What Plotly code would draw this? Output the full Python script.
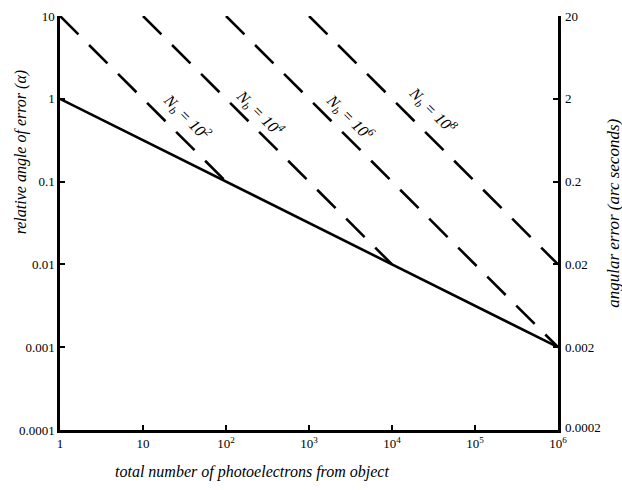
import math
import plotly.graph_objects as go

# --- data ---
solid_x = [1, 1e6]
solid_y = [1, 0.001]

nb_labels = ["10<sup>2</sup>", "10<sup>4</sup>", "10<sup>6</sup>", "10<sup>8</sup>"]
dash_x_start = [1, 10, 100, 1000]
dash_x_end = [100, 1e4, 1e6, 1e6]
dash_y_start = [10, 10, 10, 10]
dash_y_end = [0.1, 0.01, 0.001, 0.01]

x_tickvals = [1, 10, 100, 1e3, 1e4, 1e5, 1e6]
x_ticktext = ["1", "10", "10<sup>2</sup>", "10<sup>3</sup>", "10<sup>4</sup>", "10<sup>5</sup>", "10<sup>6</sup>"]
y_tickvals = [10, 1, 0.1, 0.01, 0.001, 0.0001]
y_ticktext = ["10", "1", "0.1", "0.01", "0.001", "0.0001"]
y2_tickvals = [20, 2, 0.2, 0.02, 0.002, 0.0002]
y2_ticktext = ["20", "2", "0.2", "0.02", "0.002", "0.0002"]

FONT = "Liberation Serif"
fig = go.Figure()

for i in range(len(nb_labels)):
    fig.add_trace(go.Scatter(
        x=[dash_x_start[i], dash_x_end[i]], y=[dash_y_start[i], dash_y_end[i]],
        mode="lines", line=dict(color="black", width=2.6, dash="26px,15px"),
        showlegend=False, hoverinfo="skip"))

fig.add_trace(go.Scatter(x=solid_x, y=solid_y, mode="lines",
                         line=dict(color="black", width=2.6),
                         showlegend=False, hoverinfo="skip"))

# invisible trace to activate the right axis
fig.add_trace(go.Scatter(x=[1], y=[2], yaxis="y2", mode="markers",
                         marker=dict(opacity=0), showlegend=False, hoverinfo="skip"))

label_pos = [(1.53, -0.22), (2.41, -0.17), (3.49, -0.22), (4.49, -0.13)]
for (lx, ly), lab in zip(label_pos, nb_labels):
    fig.add_annotation(x=lx, y=ly, xref="x", yref="y",
                       text="<i>N<sub>b</sub> = " + lab + "</i>", showarrow=False, textangle=45,
                       font=dict(family=FONT, size=16, color="black"))

tickfont = dict(family=FONT, size=13, color="black")
common = dict(showgrid=False, zeroline=False, showline=True, linecolor="black",
              linewidth=2.5, ticks="inside", ticklen=5, tickwidth=2,
              tickcolor="black", tickfont=tickfont, automargin=False)
y2_range = [math.log10(min(y2_tickvals)), math.log10(max(y2_tickvals))]
fig.update_layout(
    width=622, height=490,
    margin=dict(l=60, r=64, t=16, b=60),
    plot_bgcolor="white", paper_bgcolor="white",
    font=dict(family=FONT, color="black"),
    xaxis=dict(type="log", range=[0, 6], tickvals=x_tickvals, ticktext=x_ticktext, **common),
    yaxis=dict(type="log", range=[-4, 1], tickvals=y_tickvals, ticktext=y_ticktext, **common),
    yaxis2=dict(type="log", range=y2_range, overlaying="y", side="right",
                anchor="x", tickvals=y2_tickvals, showticklabels=False, **common),
)

# right-axis tick labels (as annotations, so the corner one can sit slightly higher)
for i, (v, t) in enumerate(zip(y2_tickvals, y2_ticktext)):
    frac = (math.log10(v) - y2_range[0]) / (y2_range[1] - y2_range[0])
    fig.add_annotation(x=1, xref="paper", y=frac, yref="paper", text=t,
                       xanchor="left", yanchor="middle", xshift=5,
                       yshift=3 if i == len(y2_tickvals) - 1 else 0,
                       showarrow=False, font=tickfont)

fig.add_annotation(text="<i>relative angle of error (α)</i>", xref="paper", yref="paper",
                   x=-0.078, y=0.671, xanchor="center", yanchor="middle",
                   textangle=-90, showarrow=False,
                   font=dict(family=FONT, size=16, color="black"))
fig.add_annotation(text="<i>angular error (arc seconds)</i>", xref="paper", yref="paper",
                   x=1.11, y=0.524, xanchor="center", yanchor="middle",
                   textangle=-90, showarrow=False,
                   font=dict(family=FONT, size=17, color="black"))
fig.add_annotation(text="<i>total number of photoelectrons from object</i>", xref="paper", yref="paper",
                   x=0.386, y=-0.102, xanchor="center", yanchor="middle", showarrow=False,
                   font=dict(family=FONT, size=16, color="black"))

fig.write_html("out.html", config={"displayModeBar": False},
               post_script="document.body.style.margin='0';document.body.style.overflow='hidden';")
